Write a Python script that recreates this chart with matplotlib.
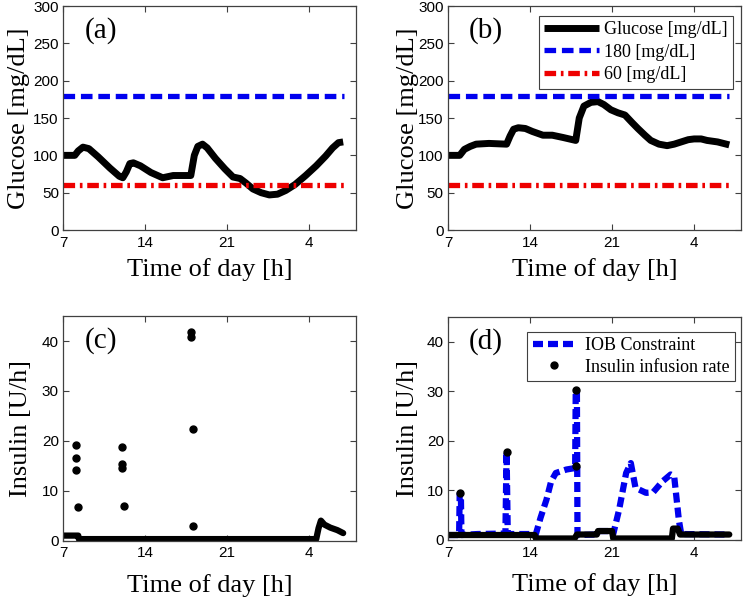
import matplotlib
matplotlib.use('Agg')
import matplotlib.pyplot as plt

# time axis: hours since midnight, 28 == 4 am next day
xticks = [7, 14, 21, 28]
xticklabels = ['7', '14', '21', '4']

# (a) glucose, no IOB constraint
ga_t = [7.0, 8.0, 8.3, 8.7, 9.2, 10.0, 11.0, 11.8, 12.1, 12.4, 12.7, 13.0, 13.6, 14.5, 15.5,
        16.4, 17.2, 17.9, 18.2, 18.5, 18.9, 19.3, 20.0, 20.8, 21.5, 22.1, 22.6, 23.2, 23.9,
        24.6, 25.3, 26.0, 26.8, 27.7, 28.6, 29.4, 30.0, 30.5, 30.9]
ga_v = [100, 100, 106, 111, 109, 98, 83, 72, 70, 78, 89, 90, 86, 77, 70,
        73, 73, 73, 100, 112, 115, 110, 96, 82, 71, 69, 63, 55, 50,
        47, 48, 53, 61, 73, 86, 99, 110, 117, 118]

# (b) glucose, with IOB constraint
gb_t = [7.0, 8.0, 8.4, 8.9, 9.4, 10.5, 12.0, 12.3, 12.6, 13.0, 13.6, 14.2, 15.1, 15.9,
        16.8, 17.9, 18.2, 18.6, 19.2, 19.8, 20.3, 20.9, 21.5, 22.1, 22.7, 23.2, 23.8,
        24.3, 25.0, 25.7, 26.3, 26.9, 27.5, 28.0, 28.6, 29.1, 30.0, 31.0]
gb_v = [100, 100, 108, 112, 115, 116, 115, 126, 135, 137, 136, 132, 127, 127,
        124, 120, 150, 166, 171, 172, 168, 161, 157, 154, 144, 136, 127,
        120, 115, 113, 115, 118, 121, 122, 122, 120, 118, 114]

hyper = 180
hypo = 60

# (c) insulin infusion rate without constraint: basal trace + bolus dots
uc_t = [7.0, 8.3, 8.35, 17.9, 28.6, 28.8, 29.0, 29.3, 29.8, 30.4, 30.9]
uc_v = [1.0, 1.0, 0.3, 0.3, 0.3, 2.5, 4.0, 3.2, 2.6, 2.1, 1.5]
bc_t = [8.1, 8.1, 8.1, 8.3, 12.0, 12.0, 12.05, 12.2, 17.9, 17.9, 18.1, 18.1]
bc_v = [19.1, 16.5, 14.2, 6.8, 18.7, 15.3, 14.5, 6.9, 41.8, 40.9, 22.4, 3.0]

# (d) IOB constraint
iob_t = [7.0, 7.95, 8.0, 8.1, 8.15, 9.5, 11.9, 12.0, 12.1, 12.3, 14.5, 14.9, 15.4, 15.8,
         16.2, 17.1, 17.85, 17.9, 18.0, 18.05, 19.6, 19.9, 21.0, 21.1, 21.6, 22.2, 22.6,
         23.0, 23.9, 24.5, 25.3, 26.0, 26.3, 26.7, 26.9, 31.0]
iob_v = [1.0, 1.0, 9.4, 9.4, 1.0, 1.2, 1.3, 17.8, 1.3, 1.2, 1.2, 4.5, 8.1, 11.8,
         13.5, 14.2, 14.5, 30.0, 30.0, 1.0, 1.1, 1.8, 1.8, 1.2, 6.1, 13.5, 15.5,
         10.5, 9.5, 9.6, 11.8, 13.2, 12.8, 4.0, 1.2, 1.1]
ud_t = [7.0, 14.4, 14.5, 17.8, 18.0, 19.7, 19.8, 21.0, 21.1, 26.1, 26.2, 26.6, 26.8, 31.0]
ud_v = [1.0, 1.0, 0.3, 0.3, 1.1, 1.1, 1.8, 1.8, 0.3, 0.3, 2.3, 2.3, 1.1, 1.1]
bd_t = [8.0, 12.0, 17.9, 17.9]
bd_v = [9.4, 17.8, 30.2, 14.9]

serif = ['Liberation Serif', 'DejaVu Serif']
sans = ['Liberation Sans', 'DejaVu Sans']
plt.rcParams['font.family'] = sans
frame = '#404040'

fig = plt.figure(figsize=(7.46, 5.97), dpi=100)
W = 0.3928
pos = {
    'a': [0.0845, 0.6147, W, 0.3752],
    'b': [0.6005, 0.6147, W, 0.3752],
    'c': [0.0845, 0.0945, W, 0.3760],
    'd': [0.6005, 0.0955, W, 0.3740],
}
axes = {k: fig.add_axes(p) for k, p in pos.items()}


def style(ax, ylim, yticks, ylabel, tag, ylab_x, xpad):
    ax.set_xlim(7, 32)
    ax.set_ylim(*ylim)
    ax.set_xticks(xticks)
    ax.set_xticklabels(xticklabels)
    ax.set_yticks(yticks)
    ax.tick_params(direction='in', length=4, width=0.8, color=frame, labelsize=11,
                   top=True, right=True)
    ax.tick_params(axis='x', pad=4)
    ax.tick_params(axis='y', pad=3)
    for s in ax.spines.values():
        s.set_color(frame)
        s.set_linewidth(0.9)
    ax.set_xlabel('Time of day [h]', fontsize=19, family=serif, labelpad=xpad)
    ax.set_ylabel(ylabel, fontsize=19, family=serif)
    ax.yaxis.set_label_coords(ylab_x, 0.5)
    ax.text(0.13, 0.89, tag, transform=ax.transAxes, fontsize=21, family=serif,
            ha='center', va='center')


for k, gt, gv in [('a', ga_t, ga_v), ('b', gb_t, gb_v)]:
    ax = axes[k]
    ax.plot(gt, gv, color='k', lw=5, solid_capstyle='butt', label='Glucose [mg/dL]')
    ax.plot([7, 31], [hyper, hyper], color='#0000ee', lw=3.8, ls=(0, (2.2, 1.1)),
            label='180 [mg/dL]')
    ax.plot([7, 31], [hypo, hypo], color='#ee0000', lw=3.8, ls=(0, (2.2, 0.9, 0.5, 0.9)),
            label='60 [mg/dL]')
    style(ax, (0, 300), range(0, 301, 50), 'Glucose [mg/dL]', '(%s)' % k,
          -0.112 if k == 'a' else -0.099, 6)

leg = axes['b'].legend(loc='upper right', bbox_to_anchor=(0.973, 0.956), borderaxespad=0,
                       prop={'family': serif, 'size': 13},
                       fancybox=False, edgecolor=frame, framealpha=1, borderpad=0.3,
                       handlelength=3.0, handletextpad=0.3, labelspacing=0.3)
leg.get_frame().set_linewidth(0.8)

ax = axes['c']
ax.plot(uc_t, uc_v, color='k', lw=4.5, solid_capstyle='round', solid_joinstyle='round')
ax.plot(bc_t, bc_v, 'o', color='k', ms=5)
style(ax, (0, 45), range(0, 41, 10), 'Insulin [U/h]', '(c)', -0.106, 10)

ax = axes['d']
ax.plot(iob_t, iob_v, color='#0000ee', lw=4.5, ls=(0, (1.6, 0.8)), label='IOB Constraint')
ax.plot(ud_t, ud_v, color='k', lw=4.5, solid_capstyle='round', solid_joinstyle='round')
ax.plot(bd_t, bd_v, 'o', color='k', ms=5, label='Insulin infusion rate')
style(ax, (0, 45), range(0, 41, 10), 'Insulin [U/h]', '(d)', -0.099, 10)
leg = ax.legend(loc='upper right', bbox_to_anchor=(0.98, 0.933), borderaxespad=0,
                prop={'family': serif, 'size': 13},
                fancybox=False, edgecolor=frame, framealpha=1, borderpad=0.3,
                handlelength=2.4, handletextpad=0.5, labelspacing=0.25)
leg.get_frame().set_linewidth(0.8)

fig.savefig('out.png', dpi=100)
